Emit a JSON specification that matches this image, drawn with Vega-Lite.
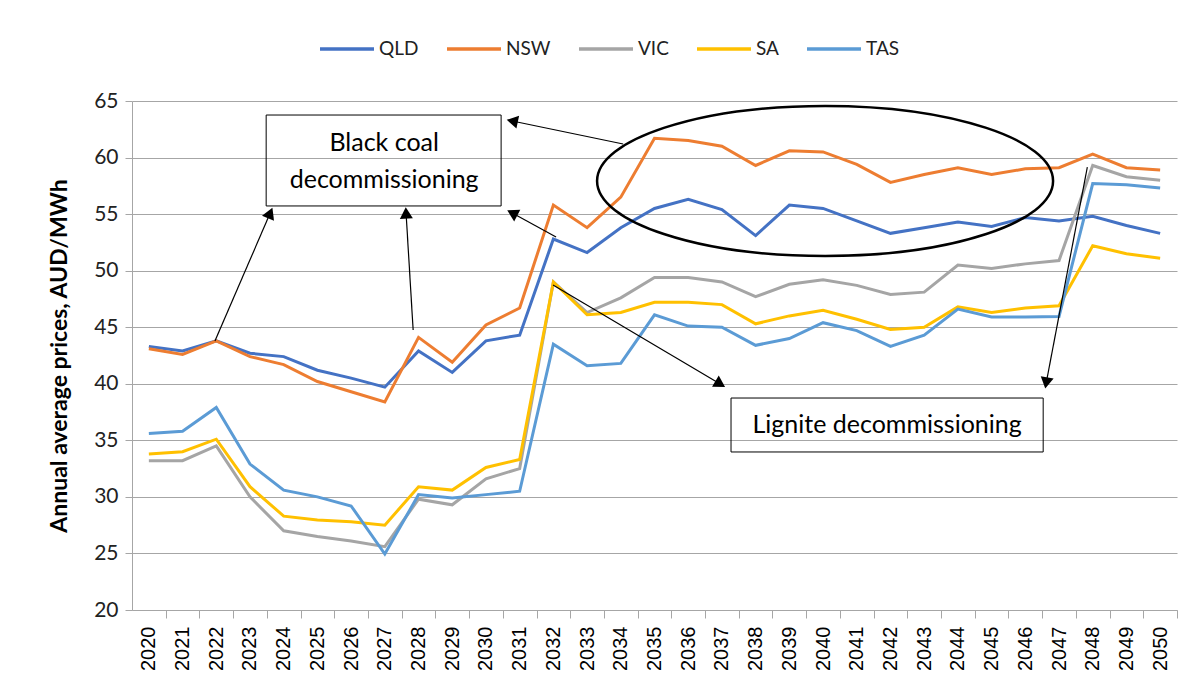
{
  "$schema": "https://vega.github.io/schema/vega-lite/v6.json",
  "width": 1045,
  "height": 509,
  "autosize": "none",
  "padding": {"left": 132, "top": 101, "right": 26, "bottom": 86},
  "background": "white",
  "config": {
    "font": "Lato",
    "view": {"stroke": null},
    "axis": {"labelOverlap": false},
    "axisX": {"labelOverlap": false}
  },
  "datasets": {
    "prices": [
      {"year":2020,"region":"QLD","price":43.3},{"year":2021,"region":"QLD","price":42.9},{"year":2022,"region":"QLD","price":43.8},{"year":2023,"region":"QLD","price":42.7},{"year":2024,"region":"QLD","price":42.4},{"year":2025,"region":"QLD","price":41.2},{"year":2026,"region":"QLD","price":40.5},{"year":2027,"region":"QLD","price":39.7},{"year":2028,"region":"QLD","price":42.9},{"year":2029,"region":"QLD","price":41.0},{"year":2030,"region":"QLD","price":43.8},{"year":2031,"region":"QLD","price":44.3},{"year":2032,"region":"QLD","price":52.8},{"year":2033,"region":"QLD","price":51.6},{"year":2034,"region":"QLD","price":53.8},{"year":2035,"region":"QLD","price":55.5},{"year":2036,"region":"QLD","price":56.3},{"year":2037,"region":"QLD","price":55.4},{"year":2038,"region":"QLD","price":53.1},{"year":2039,"region":"QLD","price":55.8},{"year":2040,"region":"QLD","price":55.5},{"year":2041,"region":"QLD","price":54.4},{"year":2042,"region":"QLD","price":53.3},{"year":2043,"region":"QLD","price":53.8},{"year":2044,"region":"QLD","price":54.3},{"year":2045,"region":"QLD","price":53.9},{"year":2046,"region":"QLD","price":54.7},{"year":2047,"region":"QLD","price":54.4},{"year":2048,"region":"QLD","price":54.8},{"year":2049,"region":"QLD","price":54.0},{"year":2050,"region":"QLD","price":53.3},
      {"year":2020,"region":"NSW","price":43.1},{"year":2021,"region":"NSW","price":42.6},{"year":2022,"region":"NSW","price":43.8},{"year":2023,"region":"NSW","price":42.4},{"year":2024,"region":"NSW","price":41.7},{"year":2025,"region":"NSW","price":40.2},{"year":2026,"region":"NSW","price":39.3},{"year":2027,"region":"NSW","price":38.4},{"year":2028,"region":"NSW","price":44.1},{"year":2029,"region":"NSW","price":41.9},{"year":2030,"region":"NSW","price":45.2},{"year":2031,"region":"NSW","price":46.7},{"year":2032,"region":"NSW","price":55.8},{"year":2033,"region":"NSW","price":53.8},{"year":2034,"region":"NSW","price":56.5},{"year":2035,"region":"NSW","price":61.7},{"year":2036,"region":"NSW","price":61.5},{"year":2037,"region":"NSW","price":61.0},{"year":2038,"region":"NSW","price":59.3},{"year":2039,"region":"NSW","price":60.6},{"year":2040,"region":"NSW","price":60.5},{"year":2041,"region":"NSW","price":59.4},{"year":2042,"region":"NSW","price":57.8},{"year":2043,"region":"NSW","price":58.5},{"year":2044,"region":"NSW","price":59.1},{"year":2045,"region":"NSW","price":58.5},{"year":2046,"region":"NSW","price":59.0},{"year":2047,"region":"NSW","price":59.1},{"year":2048,"region":"NSW","price":60.3},{"year":2049,"region":"NSW","price":59.1},{"year":2050,"region":"NSW","price":58.9},
      {"year":2020,"region":"VIC","price":33.2},{"year":2021,"region":"VIC","price":33.2},{"year":2022,"region":"VIC","price":34.5},{"year":2023,"region":"VIC","price":30.0},{"year":2024,"region":"VIC","price":27.0},{"year":2025,"region":"VIC","price":26.5},{"year":2026,"region":"VIC","price":26.1},{"year":2027,"region":"VIC","price":25.6},{"year":2028,"region":"VIC","price":29.8},{"year":2029,"region":"VIC","price":29.3},{"year":2030,"region":"VIC","price":31.6},{"year":2031,"region":"VIC","price":32.5},{"year":2032,"region":"VIC","price":49.0},{"year":2033,"region":"VIC","price":46.3},{"year":2034,"region":"VIC","price":47.6},{"year":2035,"region":"VIC","price":49.4},{"year":2036,"region":"VIC","price":49.4},{"year":2037,"region":"VIC","price":49.0},{"year":2038,"region":"VIC","price":47.7},{"year":2039,"region":"VIC","price":48.8},{"year":2040,"region":"VIC","price":49.2},{"year":2041,"region":"VIC","price":48.7},{"year":2042,"region":"VIC","price":47.9},{"year":2043,"region":"VIC","price":48.1},{"year":2044,"region":"VIC","price":50.5},{"year":2045,"region":"VIC","price":50.2},{"year":2046,"region":"VIC","price":50.6},{"year":2047,"region":"VIC","price":50.9},{"year":2048,"region":"VIC","price":59.3},{"year":2049,"region":"VIC","price":58.3},{"year":2050,"region":"VIC","price":58.0},
      {"year":2020,"region":"SA","price":33.8},{"year":2021,"region":"SA","price":34.0},{"year":2022,"region":"SA","price":35.1},{"year":2023,"region":"SA","price":30.9},{"year":2024,"region":"SA","price":28.3},{"year":2025,"region":"SA","price":27.95},{"year":2026,"region":"SA","price":27.8},{"year":2027,"region":"SA","price":27.5},{"year":2028,"region":"SA","price":30.9},{"year":2029,"region":"SA","price":30.6},{"year":2030,"region":"SA","price":32.6},{"year":2031,"region":"SA","price":33.3},{"year":2032,"region":"SA","price":49.0},{"year":2033,"region":"SA","price":46.1},{"year":2034,"region":"SA","price":46.3},{"year":2035,"region":"SA","price":47.2},{"year":2036,"region":"SA","price":47.2},{"year":2037,"region":"SA","price":47.0},{"year":2038,"region":"SA","price":45.3},{"year":2039,"region":"SA","price":46.0},{"year":2040,"region":"SA","price":46.5},{"year":2041,"region":"SA","price":45.7},{"year":2042,"region":"SA","price":44.8},{"year":2043,"region":"SA","price":45.0},{"year":2044,"region":"SA","price":46.8},{"year":2045,"region":"SA","price":46.3},{"year":2046,"region":"SA","price":46.7},{"year":2047,"region":"SA","price":46.9},{"year":2048,"region":"SA","price":52.2},{"year":2049,"region":"SA","price":51.5},{"year":2050,"region":"SA","price":51.1},
      {"year":2020,"region":"TAS","price":35.6},{"year":2021,"region":"TAS","price":35.8},{"year":2022,"region":"TAS","price":37.9},{"year":2023,"region":"TAS","price":32.9},{"year":2024,"region":"TAS","price":30.6},{"year":2025,"region":"TAS","price":30.0},{"year":2026,"region":"TAS","price":29.2},{"year":2027,"region":"TAS","price":24.95},{"year":2028,"region":"TAS","price":30.2},{"year":2029,"region":"TAS","price":29.9},{"year":2030,"region":"TAS","price":30.2},{"year":2031,"region":"TAS","price":30.5},{"year":2032,"region":"TAS","price":43.5},{"year":2033,"region":"TAS","price":41.6},{"year":2034,"region":"TAS","price":41.8},{"year":2035,"region":"TAS","price":46.1},{"year":2036,"region":"TAS","price":45.1},{"year":2037,"region":"TAS","price":45.0},{"year":2038,"region":"TAS","price":43.4},{"year":2039,"region":"TAS","price":44.0},{"year":2040,"region":"TAS","price":45.4},{"year":2041,"region":"TAS","price":44.7},{"year":2042,"region":"TAS","price":43.3},{"year":2043,"region":"TAS","price":44.3},{"year":2044,"region":"TAS","price":46.6},{"year":2045,"region":"TAS","price":45.9},{"year":2046,"region":"TAS","price":45.9},{"year":2047,"region":"TAS","price":45.95},{"year":2048,"region":"TAS","price":57.7},{"year":2049,"region":"TAS","price":57.6},{"year":2050,"region":"TAS","price":57.3}
    ],
    "arrows": [
      {"id":1,"x":2021.96,"y":43.78,"x2":2023.6,"y2":55.1},
      {"id":2,"x":2027.84,"y":44.75,"x2":2027.63,"y2":55.1},
      {"id":3,"x":2034.07,"y":61.2,"x2":2030.78,"y2":63.23},
      {"id":4,"x":2032.08,"y":52.97,"x2":2030.78,"y2":55.1},
      {"id":5,"x":2031.99,"y":48.73,"x2":2036.95,"y2":39.98},
      {"id":6,"x":2047.84,"y":59.16,"x2":2046.62,"y2":40.07}
    ],
    "boxes": [
      {"x":2023.48,"x2":2030.45,"y":63.76,"y2":55.72},
      {"x":2037.27,"x2":2046.53,"y":38.74,"y2":33.97}
    ],
    "labels": [
      {"x":2026.98,"y":61.3,"label":"Black coal"},
      {"x":2026.98,"y":58.0,"label":"decommissioning"},
      {"x":2041.9,"y":36.35,"label":"Lignite decommissioning"}
    ],
    "ellipse": [{"x":2040.06,"y":57.93}]
  },
  "layer": [
    {
      "data": {"name": "prices"},
      "mark": {"type": "line", "strokeWidth": 3},
      "encoding": {
        "x": {
          "field": "year", "type": "quantitative",
          "scale": {"domain": [2019.5, 2050.5], "nice": false, "zero": false},
          "axis": {
            "title": null,
            "values": [2020,2021,2022,2023,2024,2025,2026,2027,2028,2029,2030,2031,2032,2033,2034,2035,2036,2037,2038,2039,2040,2041,2042,2043,2044,2045,2046,2047,2048,2049,2050],
            "tickCount": 100,
            "format": "d",
            "labelAngle": 270,
            "labelFont": "Liberation Sans",
            "labelFontSize": 20,
            "labelColor": "#000000",
            "labelPadding": 8,
            "grid": false,
            "domainColor": "#A6A6A6",
            "tickColor": "#A6A6A6",
            "tickSize": 8,
            "tickOffset": 16.85,
            "labelOffset": -16.85,
            "labelBound": false,
            "labelOverlap": false,
            "labelFlush": false
          }
        },
        "y": {
          "field": "price", "type": "quantitative",
          "scale": {"domain": [20, 65], "nice": false, "zero": false},
          "axis": {
            "title": "Annual average prices, AUD/MWh",
            "titleFontSize": 23,
            "titleFontWeight": "bold",
            "titleColor": "#000000",
            "titlePadding": 22,
            "values": [20,25,30,35,40,45,50,55,60,65],
            "labelFontSize": 21,
            "labelColor": "#222222",
            "labelPadding": 7,
            "grid": true,
            "gridColor": "#A6A6A6",
            "domainColor": "#A6A6A6",
            "tickColor": "#A6A6A6",
            "tickSize": 7
          }
        },
        "color": {
          "field": "region", "type": "nominal",
          "scale": {"domain": ["QLD","NSW","VIC","SA","TAS"], "range": ["#4472C4","#ED7D31","#A5A5A5","#FFC000","#5B9BD5"]},
          "sort": ["QLD","NSW","VIC","SA","TAS"],
          "legend": {
            "title": null,
            "orient": "none",
            "direction": "horizontal",
            "legendX": 186,
            "legendY": -81,
            "labelFontSize": 19,
            "labelColor": "#222222",
            "symbolType": "stroke",
            "symbolStrokeWidth": 3.5,
            "symbolSize": 2916,
            "columnPadding": 21,
            "labelOffset": 3
          }
        }
      }
    },
    {
      "data": {"name": "arrows"},
      "mark": {"type": "rule", "color": "black", "strokeWidth": 1.2},
      "encoding": {
        "x": {"field": "x", "type": "quantitative", "axis": {"labelOverlap": false}},
        "y": {"field": "y", "type": "quantitative"},
        "x2": {"field": "x2"},
        "y2": {"field": "y2"}
      }
    },
    {
      "data": {"name": "arrows"},
      "transform": [{"filter": "datum.id == 1"}],
      "mark": {"type": "point", "shape": "triangle-up", "filled": true, "color": "black", "opacity": 1, "size": 170, "angle": 23},
      "encoding": {"x": {"field": "x2", "type": "quantitative", "axis": {"labelOverlap": false}}, "y": {"field": "y2", "type": "quantitative"}}
    },
    {
      "data": {"name": "arrows"},
      "transform": [{"filter": "datum.id == 2"}],
      "mark": {"type": "point", "shape": "triangle-up", "filled": true, "color": "black", "opacity": 1, "size": 170, "angle": 357},
      "encoding": {"x": {"field": "x2", "type": "quantitative", "axis": {"labelOverlap": false}}, "y": {"field": "y2", "type": "quantitative"}}
    },
    {
      "data": {"name": "arrows"},
      "transform": [{"filter": "datum.id == 3"}],
      "mark": {"type": "point", "shape": "triangle-up", "filled": true, "color": "black", "opacity": 1, "size": 170, "angle": 282},
      "encoding": {"x": {"field": "x2", "type": "quantitative", "axis": {"labelOverlap": false}}, "y": {"field": "y2", "type": "quantitative"}}
    },
    {
      "data": {"name": "arrows"},
      "transform": [{"filter": "datum.id == 4"}],
      "mark": {"type": "point", "shape": "triangle-up", "filled": true, "color": "black", "opacity": 1, "size": 170, "angle": 298},
      "encoding": {"x": {"field": "x2", "type": "quantitative", "axis": {"labelOverlap": false}}, "y": {"field": "y2", "type": "quantitative"}}
    },
    {
      "data": {"name": "arrows"},
      "transform": [{"filter": "datum.id == 5"}],
      "mark": {"type": "point", "shape": "triangle-up", "filled": true, "color": "black", "opacity": 1, "size": 170, "angle": 121},
      "encoding": {"x": {"field": "x2", "type": "quantitative", "axis": {"labelOverlap": false}}, "y": {"field": "y2", "type": "quantitative"}}
    },
    {
      "data": {"name": "arrows"},
      "transform": [{"filter": "datum.id == 6"}],
      "mark": {"type": "point", "shape": "triangle-up", "filled": true, "color": "black", "opacity": 1, "size": 170, "angle": 190},
      "encoding": {"x": {"field": "x2", "type": "quantitative", "axis": {"labelOverlap": false}}, "y": {"field": "y2", "type": "quantitative"}}
    },
    {
      "data": {"name": "ellipse"},
      "mark": {
        "type": "point",
        "shape": "M-1,0C-1,-0.1817,-0.5523,-0.329,0,-0.329C0.5523,-0.329,1,-0.1817,1,0C1,0.1817,0.5523,0.329,0,0.329C-0.5523,0.329,-1,0.1817,-1,0Z",
        "filled": false,
        "stroke": "black",
        "strokeWidth": 2.5,
        "opacity": 1,
        "size": 207936
      },
      "encoding": {"x": {"field": "x", "type": "quantitative", "axis": {"labelOverlap": false}}, "y": {"field": "y", "type": "quantitative"}}
    },
    {
      "data": {"name": "boxes"},
      "mark": {"type": "rect", "fill": null, "fillOpacity": 0, "stroke": "black", "strokeWidth": 1},
      "encoding": {
        "x": {"field": "x", "type": "quantitative", "axis": {"labelOverlap": false}},
        "x2": {"field": "x2"},
        "y": {"field": "y", "type": "quantitative"},
        "y2": {"field": "y2"}
      }
    },
    {
      "data": {"name": "labels"},
      "mark": {"type": "text", "fontSize": 25, "color": "black", "align": "center", "baseline": "middle"},
      "encoding": {
        "x": {"field": "x", "type": "quantitative", "axis": {"labelOverlap": false}},
        "y": {"field": "y", "type": "quantitative"},
        "text": {"field": "label"}
      }
    }
  ]
}
